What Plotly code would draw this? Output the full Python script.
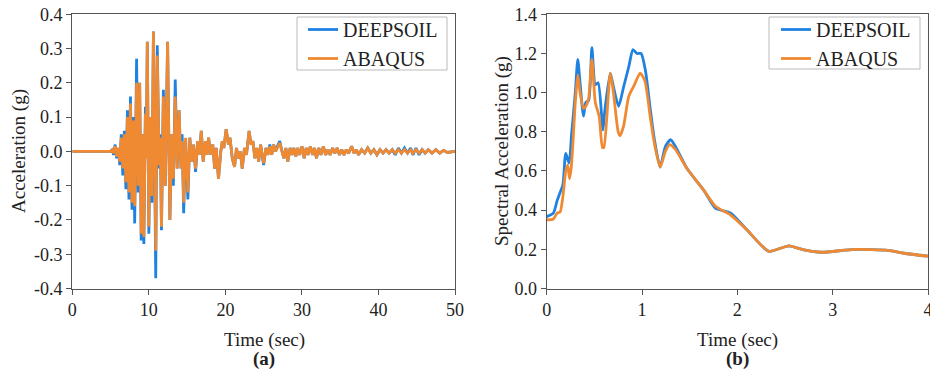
import plotly.graph_objects as go

# ---- (a) acceleration time history ----
time_s = [0, 5.0, 5.2, 5.4, 5.6, 5.8, 6.0, 6.2, 6.4, 6.6, 6.8, 7.0, 7.2, 7.4, 7.6, 7.8,
          8.0, 8.15, 8.4, 8.6, 8.8, 9.0, 9.2, 9.35, 9.55, 9.65, 9.8, 10.0, 10.2, 10.4, 10.6,
          10.9, 11.1, 11.35, 11.5, 11.65, 11.9, 12.15, 12.45, 12.75, 13.0, 13.2, 13.45, 13.7,
          13.95, 14.2, 14.35, 14.55, 14.8, 15.1, 15.35, 15.6, 15.85, 16.1, 16.4, 16.6, 16.85,
          17.1, 17.4, 17.6, 17.8, 18.1, 18.35, 18.6, 18.8, 19.1, 19.4, 19.6, 19.8, 20.1, 20.4,
          20.6, 20.9, 21.2, 21.45, 21.7, 21.95, 22.2, 22.5, 22.75, 23.1, 23.35, 23.6, 23.85,
          24.1, 24.35, 24.6, 24.85, 25.0, 25.3, 25.55, 25.8, 26.05, 26.3, 26.55, 26.8, 27.1,
          27.4, 27.65, 27.9, 28.15, 28.45, 28.7, 28.95, 29.2, 29.45, 29.7, 30.0, 30.3, 30.55,
          30.8, 31.1, 31.4, 31.65, 31.9, 32.2, 32.5, 32.8, 33.1, 33.4, 33.7, 34.0, 34.3, 34.6,
          34.9, 35.2, 35.5, 35.8, 36.1, 36.5, 36.8, 37.1, 37.4, 37.8, 38.2, 38.6, 39.0, 39.4,
          39.8, 40.2, 40.6, 41.0, 41.4, 41.8, 42.2, 42.6, 43.0, 43.4, 43.8, 44.2, 44.5, 44.9,
          45.3, 45.7, 46.1, 46.5, 47.0, 47.5, 48.0, 48.5, 49.0, 50.0]

acc_deepsoil = [0, 0, 0.005, -0.01, 0.02, -0.02, 0.01, -0.04, 0.05, -0.07, 0.06, -0.11, 0.12, -0.14, 0.16, -0.17,
                0.10, -0.21, 0.27, -0.12, 0.20, -0.26, 0.05, -0.27, 0.13, -0.02, 0.32, -0.24, 0.10, -0.15, 0.35,
                -0.37, 0.31, -0.05, 0.05, -0.23, 0.18, -0.10, 0.32, -0.20, 0.05, -0.10, 0.21, -0.05,
                0.12, -0.05, 0.05, -0.18, 0.03, -0.14, 0.04, -0.03, 0.02, -0.06, 0.03, -0.01, 0.06,
                -0.03, 0.03, -0.01, 0.04, -0.01, 0.02, -0.05, 0.01, -0.08, 0.00, 0.03, 0.01, 0.065, 0.02,
                0.04, -0.02, -0.045, 0.01, -0.02, 0.00, -0.05, 0.01, -0.01, 0.06, 0.02, 0.03, -0.02,
                0.01, -0.03, 0.02, -0.01, -0.04, 0.01, -0.01, 0.02, -0.01, 0.02, 0.00, 0.015, 0.03,
                0.00, -0.02, 0.01, -0.03, 0.01, -0.01, 0.01, -0.015, 0.01, -0.01, 0.015, -0.02, 0.01,
                -0.01, 0.015, -0.01, 0.01, -0.02, 0.01, -0.01, 0.015, -0.01, 0.005, -0.01, 0.01, -0.005, 0.01,
                -0.01, 0.005, -0.01, 0.005, -0.005, 0.015, -0.005, 0.005, -0.01, 0.005, -0.005, 0.01, -0.005, 0.005,
                -0.01, 0.005, -0.005, 0.005, -0.005, 0.005, -0.01, 0.01, -0.005, 0.01, -0.005, 0.01, -0.01, 0.01,
                -0.01, 0.005, -0.005, 0.005, -0.005, 0.005, -0.005, 0.003, -0.003, 0.0]

acc_abaqus = [0, 0, 0.005, -0.005, 0.015, -0.015, 0.01, -0.03, 0.04, -0.05, 0.05, -0.09, 0.10, -0.12, 0.14, -0.15,
              0.09, -0.16, 0.20, -0.10, 0.20, -0.24, 0.05, -0.25, 0.11, -0.02, 0.32, -0.22, 0.10, -0.13, 0.35,
              -0.29, 0.28, -0.04, 0.04, -0.22, 0.16, -0.10, 0.32, -0.20, 0.05, -0.08, 0.16, -0.05,
              0.12, -0.05, 0.03, -0.15, 0.04, -0.12, 0.04, -0.03, 0.02, -0.05, 0.03, -0.01, 0.06,
              -0.03, 0.03, -0.01, 0.04, -0.01, 0.02, -0.05, 0.01, -0.08, 0.00, 0.03, 0.01, 0.065, 0.02,
              0.04, -0.02, -0.045, 0.01, -0.02, 0.00, -0.05, 0.01, -0.01, 0.06, 0.02, 0.03, -0.02,
              0.01, -0.03, 0.02, -0.01, -0.035, 0.01, -0.01, 0.015, -0.01, 0.02, 0.00, 0.01, 0.025,
              0.00, -0.02, 0.01, -0.03, 0.01, -0.01, 0.01, -0.015, 0.01, -0.01, 0.015, -0.02, 0.01,
              -0.01, 0.015, -0.01, 0.01, -0.02, 0.01, -0.01, 0.015, -0.01, 0.005, -0.01, 0.01, -0.005, 0.01,
              -0.01, 0.005, -0.01, 0.005, -0.005, 0.015, -0.005, 0.005, -0.01, 0.005, -0.005, 0.01, -0.005, 0.005,
              -0.01, 0.005, -0.005, 0.005, -0.005, 0.005, -0.005, 0.005, -0.005, 0.005, -0.005, 0.005, -0.005, 0.005,
              -0.005, 0.005, -0.005, 0.005, -0.005, 0.005, -0.005, 0.003, -0.003, 0.0]

# ---- (b) response spectrum ----
period_deepsoil = [0, 0.07, 0.11, 0.14, 0.17, 0.2, 0.235, 0.26, 0.3, 0.326, 0.35, 0.386, 0.41, 0.44,
                   0.474, 0.51, 0.54, 0.59, 0.61, 0.667, 0.70, 0.754, 0.807, 0.86, 0.905, 0.947, 0.99,
                   1.035, 1.088, 1.13, 1.19, 1.245, 1.30, 1.35, 1.47, 1.65, 1.77, 1.93, 2.1, 2.33,
                   2.54, 2.7, 2.88, 3.23, 3.58, 3.75, 4.0]
sa_deepsoil = [0.367, 0.385, 0.45, 0.49, 0.53, 0.69, 0.64, 0.78, 1.0, 1.17, 1.05, 0.88, 0.95, 0.96,
               1.23, 1.04, 1.05, 0.81, 0.91, 1.10, 1.03, 0.93, 1.03, 1.13, 1.22, 1.20, 1.20,
               1.115, 0.91, 0.76, 0.62, 0.725, 0.76, 0.725, 0.614, 0.50, 0.41, 0.385, 0.30, 0.19,
               0.218, 0.197, 0.185, 0.20, 0.195, 0.18, 0.165]

period_abaqus = [0, 0.07, 0.11, 0.14, 0.17, 0.2, 0.22, 0.24, 0.26, 0.3, 0.326, 0.35, 0.386, 0.41, 0.44,
                 0.474, 0.51, 0.55, 0.585, 0.60, 0.667, 0.70, 0.75, 0.77, 0.807, 0.86, 0.92, 0.98,
                 1.03, 1.088, 1.13, 1.19, 1.245, 1.29, 1.35, 1.47, 1.65, 1.77, 1.93, 2.1, 2.33,
                 2.54, 2.7, 2.88, 3.23, 3.58, 3.75, 4.0]
sa_abaqus = [0.35, 0.355, 0.385, 0.39, 0.47, 0.60, 0.63, 0.56, 0.63, 0.95, 1.09, 1.0, 0.92, 0.93, 0.97,
             1.17, 0.95, 0.88, 0.72, 0.72, 1.10, 1.0, 0.80, 0.78, 0.83, 0.98, 1.04, 1.10,
             1.06, 0.87, 0.74, 0.62, 0.70, 0.735, 0.71, 0.614, 0.50, 0.42, 0.375, 0.30, 0.19,
             0.218, 0.197, 0.185, 0.20, 0.195, 0.18, 0.165]

# tick values / labels
acc_ticks = [-0.4, -0.3, -0.2, -0.1, 0, 0.1, 0.2, 0.3, 0.4]
acc_tick_labels = ["-0.4", "-0.3", "-0.2", "-0.1", "0.0", "0.1", "0.2", "0.3", "0.4"]
time_ticks = [0, 10, 20, 30, 40, 50]
sa_ticks = [0, 0.2, 0.4, 0.6, 0.8, 1.0, 1.2, 1.4]
sa_tick_labels = ["0.0", "0.2", "0.4", "0.6", "0.8", "1.0", "1.2", "1.4"]
period_ticks = [0, 1, 2, 3, 4]

BLUE = "#1f82e0"
ORANGE = "#ef8a33"
FONT = "Liberation Serif"
AXC = "#555555"

fig = go.Figure()
fig.add_trace(go.Scatter(x=time_s, y=acc_deepsoil, mode="lines", name="DEEPSOIL",
                         line=dict(color=BLUE, width=2.8), xaxis="x", yaxis="y", legend="legend"))
fig.add_trace(go.Scatter(x=time_s, y=acc_abaqus, mode="lines", name="ABAQUS",
                         line=dict(color=ORANGE, width=2.8), xaxis="x", yaxis="y", legend="legend"))
fig.add_trace(go.Scatter(x=period_deepsoil, y=sa_deepsoil, mode="lines", name="DEEPSOIL",
                         line=dict(color=BLUE, width=2.8, shape="spline", smoothing=0.6),
                         xaxis="x2", yaxis="y2", legend="legend2"))
fig.add_trace(go.Scatter(x=period_abaqus, y=sa_abaqus, mode="lines", name="ABAQUS",
                         line=dict(color=ORANGE, width=2.8, shape="spline", smoothing=0.6),
                         xaxis="x2", yaxis="y2", legend="legend2"))

W, H = 930, 374
ax_common = dict(showline=True, linecolor=AXC, linewidth=1.2, mirror=True, ticks="outside",
                 ticklen=5, tickcolor=AXC, showgrid=False, zeroline=False, automargin=False,
                 ticklabeloverflow="allow",
                 tickfont=dict(family=FONT, size=18, color="#222"))

y_dom = [(H - 288.5) / H, (H - 14.3) / H]
leg_common = dict(yanchor="top", xanchor="left", borderwidth=0, bgcolor="rgba(0,0,0,0)",
                  font=dict(family=FONT, size=20, color="#222"), tracegroupgap=0)
fig.update_layout(
    width=W, height=H, margin=dict(l=0, r=0, t=0, b=0, autoexpand=False),
    paper_bgcolor="white", plot_bgcolor="white",
    font=dict(family=FONT, color="#222"),
    xaxis=dict(domain=[72.3 / W, 455 / W], range=[0, 50], tickvals=time_ticks,
               anchor="y", **ax_common),
    yaxis=dict(domain=y_dom, range=[-0.4, 0.4], tickvals=acc_ticks, ticktext=acc_tick_labels,
               anchor="x", **ax_common),
    xaxis2=dict(domain=[546.7 / W, 928 / W], range=[0, 4], tickvals=period_ticks,
                anchor="y2", **ax_common),
    yaxis2=dict(domain=y_dom, range=[0, 1.4], tickvals=sa_ticks, ticktext=sa_tick_labels,
                anchor="x2", **ax_common),
    legend=dict(x=303 / W, y=(H - 10) / H, **leg_common),
    legend2=dict(x=776 / W, y=(H - 10) / H, **leg_common),
    showlegend=True,
)

# legend frames
fig.add_shape(type="rect", xref="paper", yref="paper", x0=297 / W, x1=447 / W,
              y0=(H - 70) / H, y1=(H - 17) / H, line=dict(color="#bbbbbb", width=1),
              fillcolor="white", layer="below")
fig.add_shape(type="rect", xref="paper", yref="paper", x0=769 / W, x1=920 / W,
              y0=(H - 69) / H, y1=(H - 17) / H, line=dict(color="#bbbbbb", width=1),
              fillcolor="white", layer="below")

ann = []
ann.append(dict(text="Acceleration (g)", x=19 / W, y=(H - 151) / H, xref="paper", yref="paper",
                textangle=-90, showarrow=False, font=dict(family=FONT, size=19, color="#222"),
                xanchor="center", yanchor="middle"))
ann.append(dict(text="Time (sec)", x=264 / W, y=(H - 340) / H, xref="paper", yref="paper",
                showarrow=False, font=dict(family=FONT, size=19, color="#222"),
                xanchor="center", yanchor="middle"))
ann.append(dict(text="<b>(a)</b>", x=264 / W, y=(H - 359) / H, xref="paper", yref="paper",
                showarrow=False, font=dict(family=FONT, size=19, color="#222"),
                xanchor="center", yanchor="middle"))
ann.append(dict(text="Spectral Acceleration (g)", x=502 / W, y=(H - 151) / H, xref="paper", yref="paper",
                textangle=-90, showarrow=False, font=dict(family=FONT, size=19, color="#222"),
                xanchor="center", yanchor="middle"))
ann.append(dict(text="Time (sec)", x=737 / W, y=(H - 340) / H, xref="paper", yref="paper",
                showarrow=False, font=dict(family=FONT, size=19, color="#222"),
                xanchor="center", yanchor="middle"))
ann.append(dict(text="<b>(b)</b>", x=737 / W, y=(H - 359) / H, xref="paper", yref="paper",
                showarrow=False, font=dict(family=FONT, size=19, color="#222"),
                xanchor="center", yanchor="middle"))
fig.update_layout(annotations=ann)

fig.write_html("out.html", config={"displayModeBar": False},
               post_script="document.body.style.margin='0';document.body.style.overflow='hidden';")
